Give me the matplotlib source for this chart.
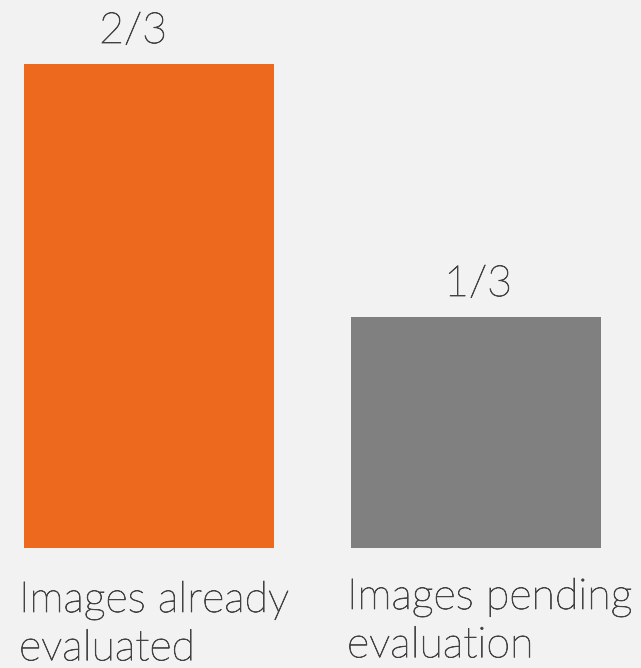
import matplotlib
matplotlib.use("Agg")
import matplotlib.pyplot as plt
import matplotlib.patheffects as pe

categories = ["Images already\nevaluated", "Images pending\nevaluation"]
values = [2 / 3, 1 / 3]
value_labels = ["2/3", "1/3"]
colors = ["#EC691D", "#808080"]

bg = "#F2F2F2"
txt = "#434343"
# light font looks too thin next to the reference, thicken slightly
fx = [pe.withStroke(linewidth=0.55, foreground=txt)]

fig = plt.figure(figsize=(6.41, 6.68), dpi=100, facecolor=bg)
# axes bottom sits on the bars' base line (y=548 px from top)
ax = fig.add_axes([0, 120 / 668, 1, 548 / 668])
ax.set_facecolor(bg)

x = [0, 1]
ax.bar(x, values, width=250 / 327, color=colors)
ax.set_xlim(-149 / 327, 1 + 165 / 327)
ax.set_ylim(0.029, 0.751)

lab_off = [(-16, 13), (2, 13)]
for xi, v, lab, off in zip(x, values, value_labels, lab_off):
    ax.annotate(lab, (xi, v), xytext=off, textcoords="offset pixels",
                ha="center", va="bottom", fontsize=31, fontfamily="Lato",
                fontweight="light", color=txt, path_effects=fx)

cat_off = [(-130, -33), (-129, -30)]
for xi, cat, off in zip(x, categories, cat_off):
    ax.annotate(cat, (xi, 0.029), xytext=off, textcoords="offset pixels",
                ha="left", va="top", fontsize=31, fontfamily="Lato",
                fontweight="light", color=txt, linespacing=1.3,
                annotation_clip=False, path_effects=fx)

ax.axis("off")
fig.savefig("out.png", dpi=100, facecolor=bg)
